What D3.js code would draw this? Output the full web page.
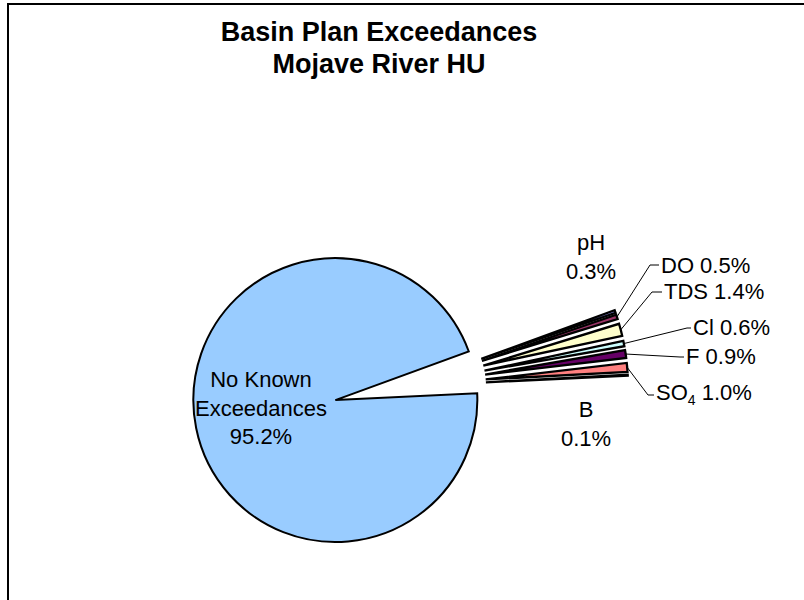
<!DOCTYPE html>
<html><head><meta charset="utf-8">
<script src="https://cdn.jsdelivr.net/npm/d3@7"></script>
<style>
body{margin:0;background:#fff}
svg{display:block}
text{font-family:"Liberation Sans",Arial,Helvetica,sans-serif;fill:#000}
</style>
</head><body>
<svg id="c" width="804" height="600"></svg>
<script>
// ---- data ----
const categories = ["pH","DO","TDS","Cl","F","SO4","B","No Known Exceedances"];
const values = [0.3,0.5,1.4,0.6,0.9,1.0,0.1,95.2];
const valueLabels = ["0.3%","0.5%","1.4%","0.6%","0.9%","1.0%","0.1%","95.2%"];
const titleLines = ["Basin Plan Exceedances","Mojave River HU"];

// ---- styles / layout ----
const colors = ["#9999FF","#993366","#FFFFCC","#CCFFFF","#660066","#FF8080","#0066CC","#99CCFF"];
const center = [403, 386.5];
const R = 142;
const startDeg = 70;
const explode = [83,83,83,83,83,83,83,69];
const labelLayout = [
  {type:"stack", x:591, y:250},
  {type:"leader", elbow:[650,265], x:661, y:273},
  {type:"leader", elbow:[652,292], x:664, y:299},
  {type:"leader", elbow:[687,328], x:693, y:335},
  {type:"leader", elbow:[680,357], x:686, y:364},
  {type:"leader", elbow:[648,395], x:656, y:400},
  {type:"stack", x:586, y:417},
  {type:"main", x:261, y:387}
];
const FS = 22, LH = 28.5, TFS = 27;

const svg = d3.select("#c");
const rad = d => d*Math.PI/180;

// border
svg.append("rect").attr("x",8).attr("y",4).attr("width",900).attr("height",700)
  .attr("fill","none").attr("stroke","#000").attr("stroke-width",2);

// title
svg.append("text").attr("x",379).attr("y",41).attr("text-anchor","middle")
  .attr("font-size",TFS).attr("font-weight","bold").text(titleLines[0]);
svg.append("text").attr("x",379).attr("y",73).attr("text-anchor","middle")
  .attr("font-size",TFS).attr("font-weight","bold").text(titleLines[1]);

const data = categories.map((c,i)=>({name:c, value:values[i], label:valueLabels[i], i}));
const pie = d3.pie().sort(null).value(d=>d.value)
  .startAngle(rad(startDeg)).endAngle(rad(startDeg+360));
const arcs = pie(data);
const arc = d3.arc().innerRadius(0).outerRadius(R);

function offset(a, k){
  const m = (a.startAngle + a.endAngle)/2;
  return [center[0] + k*Math.sin(m), center[1] - k*Math.cos(m)];
}

// draw main first then small ones
const order = [7,0,1,2,3,4,5,6];
order.forEach(i=>{
  const a = arcs[i];
  const o = offset(a, explode[i]);
  svg.append("path").attr("d", arc(a))
    .attr("transform", `translate(${o[0]},${o[1]})`)
    .attr("fill", colors[i]).attr("stroke","#000").attr("stroke-width", i===7 ? 2 : 2.3)
    .attr("stroke-linejoin","miter");
});

// labels
arcs.forEach((a,i)=>{
  const L = labelLayout[i];
  const d = a.data;
  if (L.type === "stack"){
    svg.append("text").attr("x",L.x).attr("y",L.y).attr("text-anchor","middle")
      .attr("font-size",FS).text(d.name);
    svg.append("text").attr("x",L.x).attr("y",L.y+LH).attr("text-anchor","middle")
      .attr("font-size",FS).text(d.label);
  } else if (L.type === "main"){
    const words = ["No Known","Exceedances"];
    words.forEach((w,k)=>{
      svg.append("text").attr("x",L.x).attr("y",L.y+k*LH).attr("text-anchor","middle")
        .attr("font-size",FS).text(w);
    });
    svg.append("text").attr("x",L.x).attr("y",L.y+2*LH).attr("text-anchor","middle")
      .attr("font-size",FS).text(d.label);
  } else {
    const s = offset(a, explode[i] + R);
    svg.append("path")
      .attr("d", `M${s[0]},${s[1]}L${L.elbow[0]},${L.elbow[1]}H${L.x-2}`)
      .attr("fill","none").attr("stroke","#000").attr("stroke-width",1);
    const t = svg.append("text").attr("x",L.x).attr("y",L.y).attr("font-size",FS);
    if (d.name === "SO4"){
      t.append("tspan").text("SO");
      t.append("tspan").attr("font-size",14).attr("dy",5).text("4");
      t.append("tspan").attr("dy",-5).text(" " + d.label);
    } else {
      t.text(d.name + " " + d.label);
    }
  }
});
</script>
</body></html>
